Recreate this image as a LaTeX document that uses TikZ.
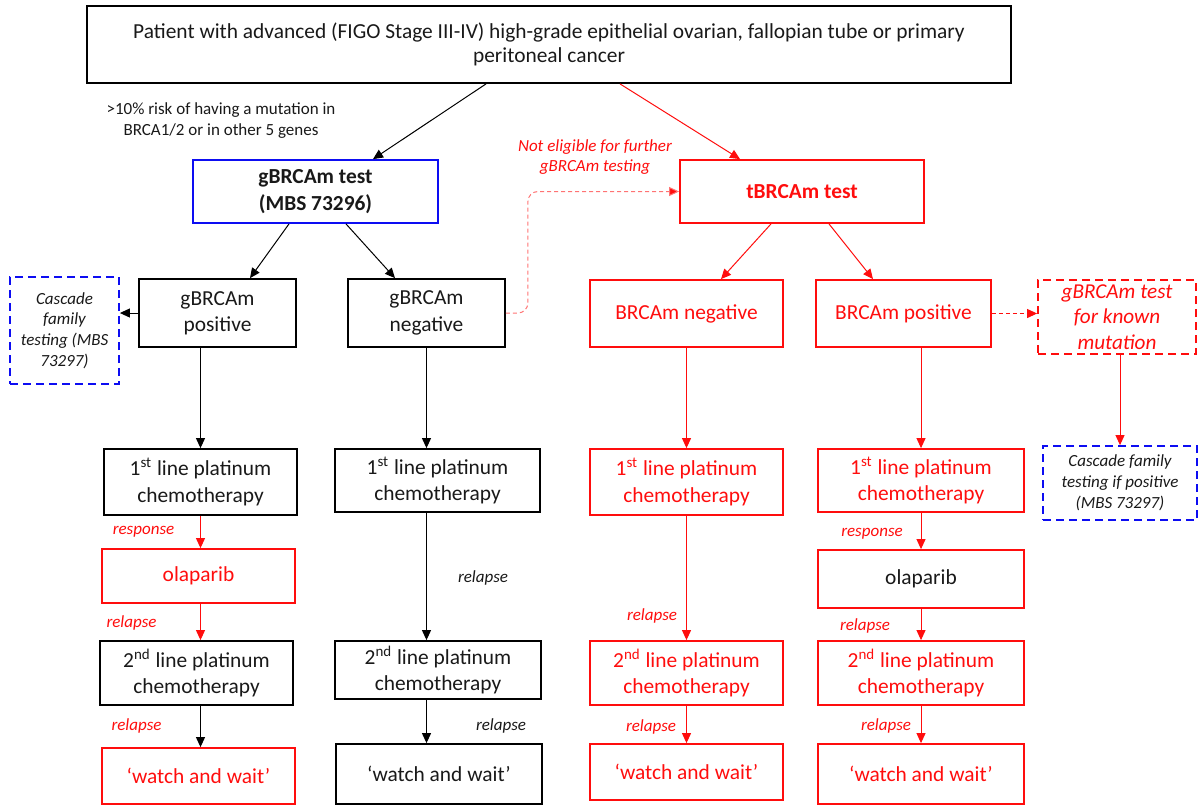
\documentclass[tikz,border=0pt]{standalone}
\usepackage{fontspec}
\setmainfont{Carlito}
\usepackage{tikz}
\usetikzlibrary{
  arrows.meta,
  positioning,
  calc
}
\usepackage{xcolor}
\definecolor{flowRed}{rgb}{1,0.05,0.05}
\definecolor{lightRed}{rgb}{1,0.45,0.45}
\definecolor{flowBlue}{rgb}{0.05,0.05,0.95}
\definecolor{inkGrey}{rgb}{0.1,0.1,0.1}
\newcommand{\boxFont}{\fontsize{10.7}{13.2}\selectfont}
\newcommand{\noteFont}{\fontsize{8.5}{10.4}\selectfont}
\newcommand{\chemoText}[2]{#1\textsuperscript{#2} line platinum\\chemotherapy}
\tikzset{
  wh/.style 2 args={
    minimum width=#1*0.5pt,
    minimum height=#2*0.5pt
  },
  box/.style={
    rectangle,
    draw=black,
    line width=0.9pt,
    align=center,
    inner sep=1pt,
    font=\boxFont,
    text=inkGrey
  },
  redBox/.style={
    box,
    draw=flowRed,
    text=flowRed
  },
  blueBox/.style={
    box,
    draw=flowBlue,
    font=\boxFont\bfseries
  },
  dashBox/.style={
    box,
    dash pattern=on 4pt off 2.5pt,
    font=\noteFont\itshape
  },
  note/.style={
    align=center,
    inner sep=0pt,
    font=\noteFont\itshape,
    text=inkGrey
  },
  arrow/.style={
    ->,
    line width=0.5pt,
    draw=black
  },
  redArrow/.style={
    arrow,
    draw=flowRed
  }
}

\begin{document}
\begin{tikzpicture}[x=0.5pt, y=-0.5pt, >={Triangle[length=5pt,width=4.5pt]}]
  \useasboundingbox (0,0) rectangle (1198,805);

  % top of the tree
  \node[box, wh={924}{77}, font=\fontsize{10.7}{12}\selectfont] (patient) at (549,44.5)
    {Patient with advanced (FIGO Stage III-IV) high-grade epithelial ovarian, fallopian tube or primary\\peritoneal cancer};
  \node[note, font=\noteFont, text=inkGrey] (risk) at (221,120.5)
    {>10\% risk of having a mutation in\\BRCA1/2 or in other 5 genes};
  \node[note, text=flowRed] (notElig) at (595,157)
    {Not eligible for further\\gBRCAm testing};

  \node[blueBox, wh={245}{63}] (gtest) at (315.5,191.5) {gBRCAm test\\(MBS 73296)};
  \node[redBox, wh={244}{63}, font=\boxFont\bfseries] (ttest) at (802,191.5) {tBRCAm test};

  \node[box, wh={157}{68}] (gpos) at (217.5,313) {gBRCAm\\positive};
  \node[box, wh={157}{68}] (gneg) at (426.5,313) {gBRCAm\\negative};
  \node[dashBox, draw=flowBlue, wh={109}{107}] (casc1) at (64.5,330.5)
    {Cascade\\family\\testing (MBS\\73297)};
  \node[redBox, wh={193}{67}] (bneg) at (686.5,313.5) {BRCAm negative};
  \node[redBox, wh={175}{67}] (bpos) at (903.5,313.5) {BRCAm positive};
  \node[dashBox, draw=flowRed, text=flowRed, wh={158}{74},
    font=\fontsize{10.6}{12.8}\selectfont\itshape] (known) at (1117,317)
    {gBRCAm test\\for known\\mutation};
  \node[dashBox, draw=flowBlue, wh={154}{74}] (casc2) at (1120,483)
    {Cascade family\\testing if positive\\(MBS 73297)};

  % gBRCAm positive column
  \node[box, wh={193}{66}] (fst1) at (200.5,482) {\chemoText{1}{st}};
  \node[redBox, wh={193}{54}] (ola1) at (198.5,576) {olaparib};
  \node[box, wh={193}{64}] (snd1) at (196.5,673) {\chemoText{2}{nd}};
  \node[redBox, wh={193}{56}] (ww1) at (198.5,776) {‘watch and wait’};

  % gBRCAm negative column
  \node[box, wh={205}{63}] (fst2) at (437.5,480.5) {\chemoText{1}{st}};
  \node[box, wh={206}{58}] (snd2) at (438,670) {\chemoText{2}{nd}};
  \node[box, wh={206}{60}] (ww2) at (439,774) {‘watch and wait’};

  % BRCAm negative column
  \node[redBox, wh={193}{66}] (fst3) at (686.5,482) {\chemoText{1}{st}};
  \node[redBox, wh={193}{64}] (snd3) at (686.5,673) {\chemoText{2}{nd}};
  \node[redBox, wh={193}{56}] (ww3) at (686.5,772) {‘watch and wait’};

  % BRCAm positive column
  \node[redBox, wh={206}{63}] (fst4) at (921,480.5) {\chemoText{1}{st}};
  \node[redBox, wh={206}{58}, text=inkGrey] (ola4) at (921,579) {olaparib};
  \node[redBox, wh={206}{64}] (snd4) at (921,673) {\chemoText{2}{nd}};
  \node[redBox, wh={206}{60}] (ww4) at (921,774) {‘watch and wait’};

  % arrow labels
  \node[note, text=flowRed] (resp1) at (143.5,532) {response};
  \node[note, text=flowRed] (rel1a) at (131.5,623) {relapse};
  \node[note, text=flowRed] (rel1b) at (136.5,726) {relapse};
  \node[note] (rel2a) at (483,578) {relapse};
  \node[note] (rel2b) at (501,726) {relapse};
  \node[note, text=flowRed] (rel3a) at (652,616) {relapse};
  \node[note, text=flowRed] (rel3b) at (651,727) {relapse};
  \node[note, text=flowRed] (resp4) at (872,534) {response};
  \node[note, text=flowRed] (rel4a) at (865,626) {relapse};
  \node[note, text=flowRed] (rel4b) at (886,726) {relapse};

  % connectors
  \draw[arrow] ($(patient.south)+(-63,0)$) -- ($(gtest.north)+(57.5,0)$);
  \draw[redArrow] ($(patient.south)+(71,0)$) -- ($(ttest.north)+(-62,0)$);
  \draw[arrow] ($(gtest.south)+(-26.5,0)$) -- ($(gpos.north)+(32.5,0)$);
  \draw[arrow] ($(gtest.south)+(30.5,0)$) -- ($(gneg.north)+(-31.5,0)$);
  \draw[redArrow] ($(ttest.south)+(-31,0)$) -- ($(bneg.north)+(34.5,0)$);
  \draw[redArrow] ($(ttest.south)+(27,0)$) -- ($(bpos.north)+(-30.5,0)$);
  \draw[arrow] (gpos.west) -- (gpos.west -| casc1.east);
  \draw[arrow, draw=lightRed, dash pattern=on 2pt off 1.5pt, rounded corners=5pt,
    -{Triangle[length=5pt,width=4.5pt,fill=flowRed]}]
    (gneg.east) -- ++(22,0) |- (ttest.west);
  \draw[redArrow, dash pattern=on 2pt off 1.5pt] (bpos.east) -- (bpos.east -| known.west);
  \draw[redArrow] (known.south -| casc2) -- (casc2.north);

  \foreach \src/\dst/\col in {gpos/fst1/black, fst1/ola1/flowRed, ola1/snd1/flowRed, snd1/ww1/black}{
    \draw[arrow, draw=\col] (\src.south -| fst1) -- (\dst.north -| fst1);
  }
  \foreach \src/\dst in {gneg/fst2, fst2/snd2, snd2/ww2}{
    \draw[arrow] (\src.south -| gneg) -- (\dst.north -| gneg);
  }
  \foreach \src/\dst in {bneg/fst3, fst3/snd3, snd3/ww3}{
    \draw[redArrow] (\src.south -| bneg) -- (\dst.north -| bneg);
  }
  \foreach \src/\dst in {bpos/fst4, fst4/ola4, ola4/snd4, snd4/ww4}{
    \draw[redArrow] (\src.south -| fst4) -- (\dst.north -| fst4);
  }
\end{tikzpicture}
\end{document}
